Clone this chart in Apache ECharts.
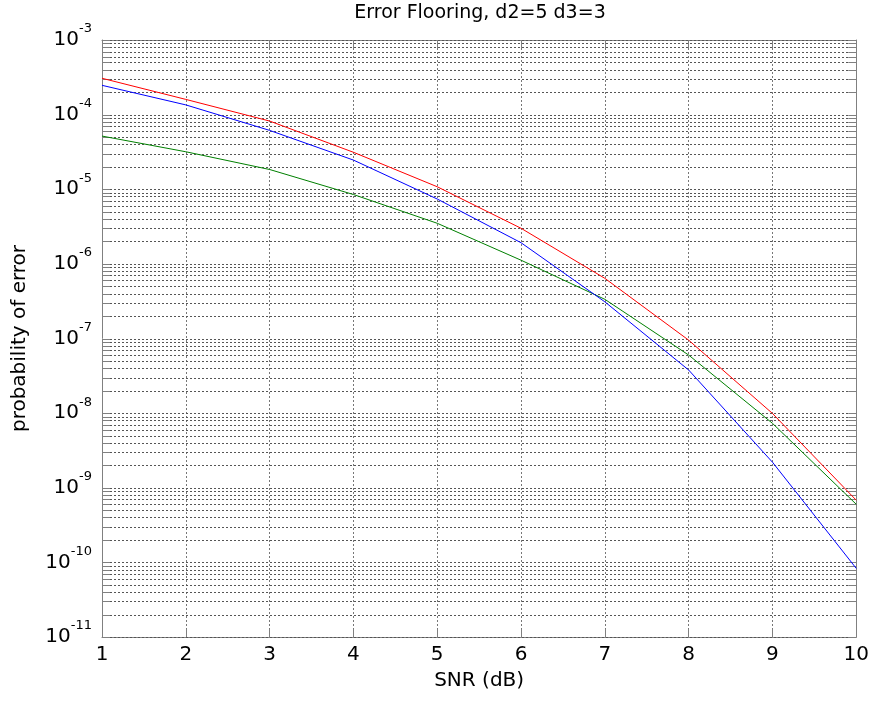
<!DOCTYPE html>
<html>
<head>
<meta charset="utf-8">
<script src="https://cdn.jsdelivr.net/npm/echarts@6/dist/echarts.min.js"></script>
<style>
  html, body { margin: 0; padding: 0; background: #fff; }
  #chart { width: 872px; height: 702px; }
</style>
</head>
<body>
<div id="chart"></div>
<script>
// SNR points (dB)
const snr = [1, 2, 3, 4, 5, 6, 7, 8, 9, 10];

// Bit error probability curves
const berRed   = [3.07e-4, 1.6e-4, 8.2e-5, 3.13e-5, 1.08e-5, 3.0e-6, 6.4e-7, 9.5e-8, 9.9e-9, 6.8e-10];
const berBlue  = [2.47e-4, 1.35e-4, 6.15e-5, 2.46e-5, 7.4e-6, 1.92e-6, 3.1e-7, 3.78e-8, 2.2e-9, 8.3e-11];
const berGreen = [5.16e-5, 3.18e-5, 1.84e-5, 8.5e-6, 3.5e-6, 1.12e-6, 3.35e-7, 6.0e-8, 7.3e-9, 6.0e-10];

// Axis tick values
const xTicks = [1, 2, 3, 4, 5, 6, 7, 8, 9, 10];
const decadeExponents = [-11, -10, -9, -8, -7, -6, -5, -4, -3];
const mantissas = [1, 2, 3, 4, 5, 6, 7, 8, 9];

const titleText = 'Error Flooring, d2=5 d3=3';

// every log grid line: 1..9 times each decade, up to 1e-3
const logGridValues = [];
decadeExponents.forEach(function (e) {
  mantissas.forEach(function (m) {
    if (e === -3 && m > 1) return;
    logGridValues.push([xTicks[0], m * Math.pow(10, e)]);
  });
});

const FONT = 'DejaVu Sans';
const AXIS_GRAY = '#808080';
const GRID = { left: 102, top: 40, right: 14, bottom: 65 };

const chart = echarts.init(document.getElementById('chart'), null, { renderer: 'canvas' });

function lineSeries(name, data, color) {
  return {
    name: name,
    type: 'line',
    data: snr.map(function (x, i) { return [x, data[i]]; }),
    showSymbol: false,
    symbol: 'none',
    lineStyle: { color: color, width: 1 },
    itemStyle: { color: color },
    z: 5,
    silent: true
  };
}

chart.setOption({
  animation: false,
  backgroundColor: '#ffffff',
  // title centred over the plotting area
  graphic: [{
    type: 'text',
    x: GRID.left + (872 - GRID.left - GRID.right) / 2,
    y: 4,
    silent: true,
    style: {
      text: titleText,
      fill: '#000',
      font: '19px "' + FONT + '"',
      textAlign: 'center',
      textVerticalAlign: 'top'
    }
  }],
  grid: { left: GRID.left, top: GRID.top, right: GRID.right, bottom: GRID.bottom, containLabel: false },
  xAxis: [{
    type: 'value',
    min: 1,
    max: 10,
    interval: 1,
    name: 'SNR (dB)',
    nameLocation: 'middle',
    nameGap: 34,
    nameTextStyle: { fontFamily: FONT, fontSize: 20, color: '#000' },
    axisLine: { show: true, lineStyle: { color: AXIS_GRAY, width: 1 } },
    axisTick: { show: true, inside: true, length: 8, lineStyle: { color: AXIS_GRAY } },
    axisLabel: { fontFamily: FONT, fontSize: 20, color: '#000', margin: 8 },
    splitLine: { show: true, lineStyle: { color: '#777', type: [2, 2], width: 1 } }
  }, {
    type: 'value',
    position: 'top',
    min: 1,
    max: 10,
    interval: 1,
    axisLine: { show: true, lineStyle: { color: AXIS_GRAY, width: 1 } },
    axisTick: { show: true, inside: true, length: 8, lineStyle: { color: AXIS_GRAY } },
    axisLabel: { show: false },
    splitLine: { show: false }
  }],
  yAxis: [{
    type: 'log',
    logBase: 10,
    min: 1e-11,
    max: 1e-3,
    name: 'probability of error',
    nameLocation: 'middle',
    nameRotate: 90,
    nameGap: 72,
    nameTextStyle: { fontFamily: FONT, fontSize: 20, color: '#000' },
    axisLine: { show: true, lineStyle: { color: AXIS_GRAY, width: 1 } },
    axisTick: { show: false },
    splitLine: { show: false },
    axisLabel: {
      margin: 10,
      color: '#000',
      formatter: function (v) {
        const e = Math.round(Math.log10(v));
        return '{b|10}{s|' + e + '}';
      },
      rich: {
        b: { fontFamily: FONT, fontSize: 20, color: '#000' },
        s: { fontFamily: FONT, fontSize: 13, color: '#000', padding: [0, 0, 22, 0] }
      }
    }
  }, {
    type: 'log',
    logBase: 10,
    min: 1e-11,
    max: 1e-3,
    position: 'right',
    axisLine: { show: true, lineStyle: { color: AXIS_GRAY, width: 1 } },
    axisTick: { show: false },
    axisLabel: { show: false },
    splitLine: { show: false }
  }],
  series: [
    {
      // dotted horizontal grid and inward ticks on both sides at each log grid value
      type: 'custom',
      silent: true,
      z: 1,
      clip: false,
      data: logGridValues,
      renderItem: function (params, api) {
        const cs = params.coordSys;
        const v = api.value(1);
        const y = Math.round(api.coord([api.value(0), v])[1]) + 0.5;
        const x0 = cs.x;
        const x1 = cs.x + cs.width;
        return {
          type: 'group',
          children: [
            { type: 'line', shape: { x1: x0, y1: y, x2: x1, y2: y },
              style: { stroke: '#555', lineWidth: 1, lineDash: [2, 2] } },
            { type: 'line', shape: { x1: x0, y1: y, x2: x0 + 8, y2: y },
              style: { stroke: AXIS_GRAY, lineWidth: 1 } },
            { type: 'line', shape: { x1: x1 - 8, y1: y, x2: x1, y2: y },
              style: { stroke: AXIS_GRAY, lineWidth: 1 } }
          ]
        };
      }
    },
    lineSeries('green', berGreen, '#008000'),
    lineSeries('blue', berBlue, '#0000ff'),
    lineSeries('red', berRed, '#ff0000')
  ]
});
</script>
</body>
</html>
